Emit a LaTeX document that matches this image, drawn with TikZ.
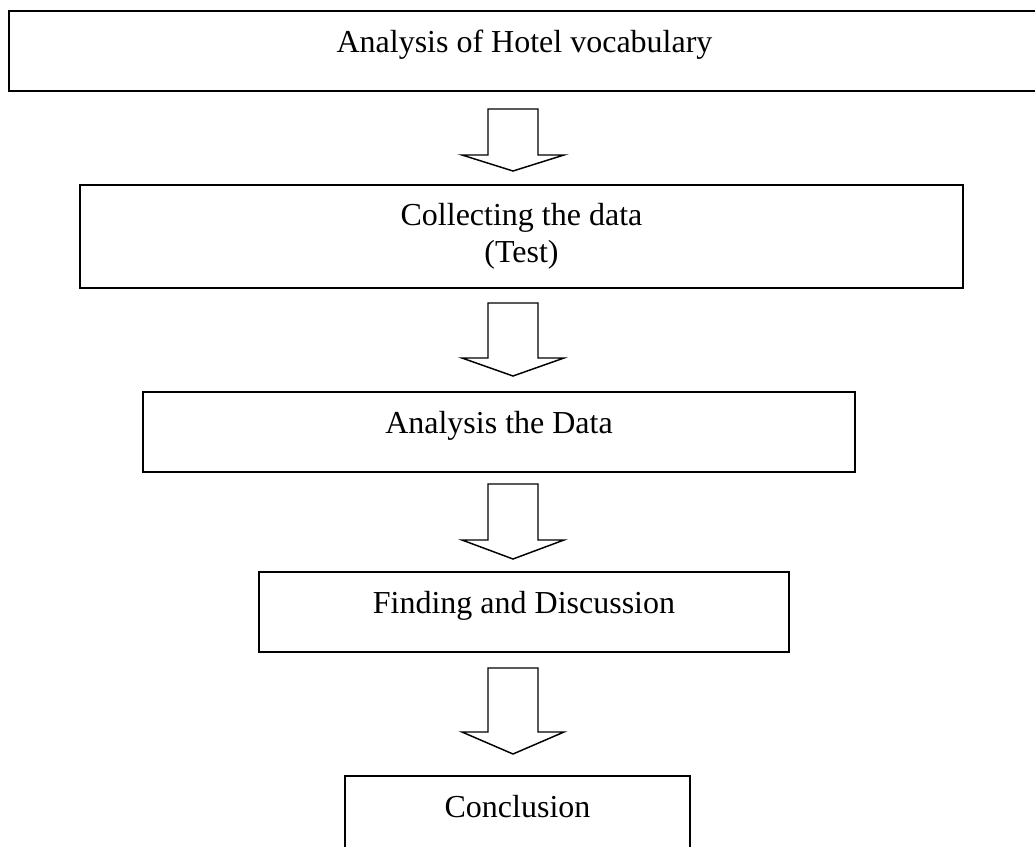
\documentclass[tikz,border=0pt]{standalone}
\usepackage{fontspec}
\setmainfont{Liberation Serif}
\tikzset{
    stage/.style = {draw=black, line width=1.5pt, inner sep=0pt, outer sep=0pt,
        align=center, anchor=north, font=\fontsize{24}{27.75}\selectfont},
    oneline/.style = {stage, text height=30.75pt, text depth=29.25pt},
    blockarrow/.style = {draw=black, line width=1.1pt, fill=white, line join=miter},
}

\begin{document}
\begin{tikzpicture}[x=0.75pt, y=-0.75pt]
        \useasboundingbox (0,0) rectangle (1035,846);
        % stages
        \node [oneline, minimum width=773.25pt] (vocab) at (524.5,11) {Analysis of Hotel vocabulary};
        \node [stage, minimum width=662.25pt, minimum height=77.25pt] (collect) at (521.5,185) {Collecting the data\\(Test)};
        \node [oneline, minimum width=534pt] (analysis) at (499,392) {Analysis the Data};
        \node [oneline, minimum width=397.5pt] (finding) at (524,572) {Finding and Discussion};
        \node [oneline, minimum width=258.75pt] (concl) at (517.5,776) {Conclusion};
        % hollow arrows between the stages
        \draw [blockarrow] (488,109) -- (538,109) -- (538,155) -- (564,155) -- (513,171) -- (462,155) -- (488,155) -- cycle;
        \draw [blockarrow] (488,303) -- (538,303) -- (538,358) -- (564,358) -- (513,376) -- (462,358) -- (488,358) -- cycle;
        \draw [blockarrow] (488,484) -- (538,484) -- (538,540) -- (564,540) -- (513,559) -- (462,540) -- (488,540) -- cycle;
        \draw [blockarrow] (488,668) -- (538,668) -- (538,732) -- (564,732) -- (513,754) -- (462,732) -- (488,732) -- cycle;
\end{tikzpicture}
\end{document}
